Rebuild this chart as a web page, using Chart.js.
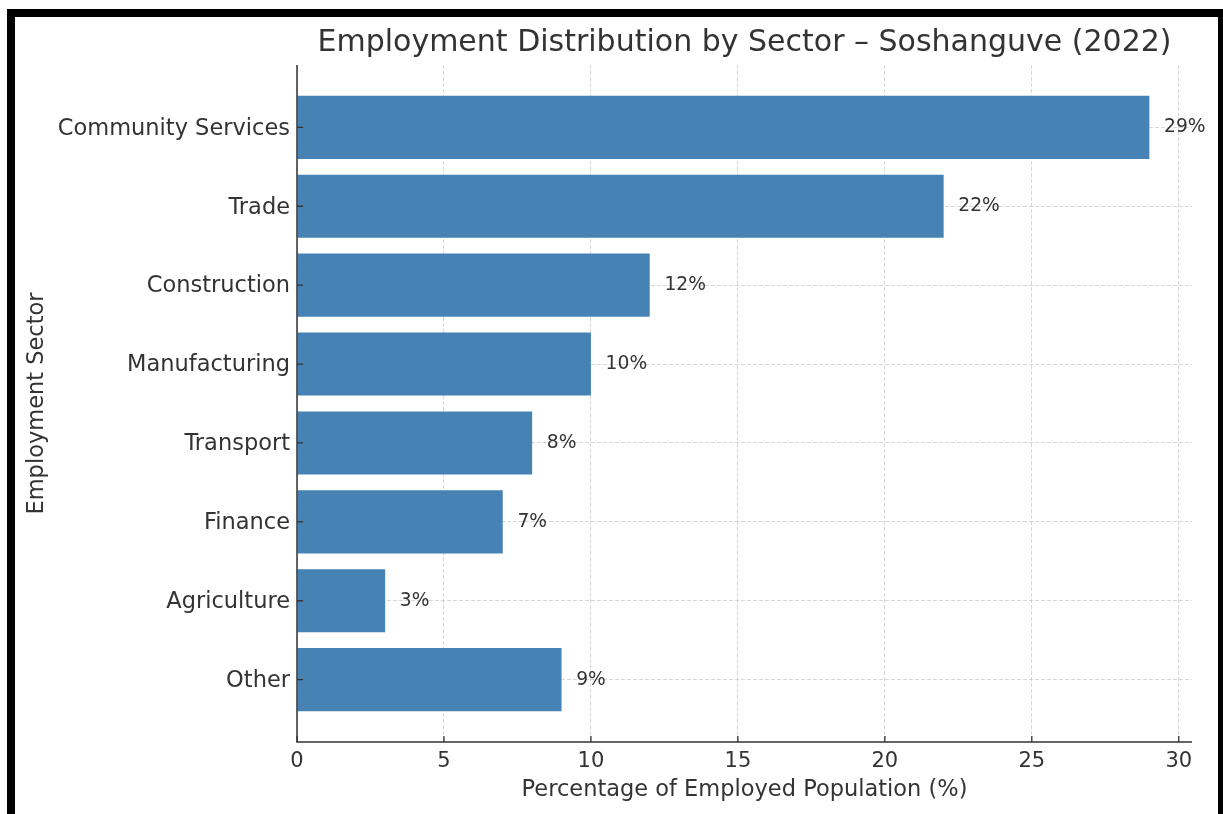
<!DOCTYPE html>
<html>
<head>
<meta charset="utf-8">
<title>Employment Distribution by Sector – Soshanguve (2022)</title>
<script src="https://cdn.jsdelivr.net/npm/chart.js@4/dist/chart.umd.min.js"></script>
<style>
  html, body { margin: 0; padding: 0; background: #ffffff; overflow: hidden; }
  #wrap { position: relative; width: 1223px; height: 814px; }
  #chart { position: absolute; left: 0; top: 0; }
  #frame {
    position: absolute; left: 7px; top: 9px; width: 1203px; height: 830px;
    border: 8px solid #000; pointer-events: none;
  }
</style>
</head>
<body>
<div id="wrap">
  <canvas id="chart" width="1223" height="814"></canvas>
  <div id="frame"></div>
</div>
<script>
// Sectors, top to bottom
const sectors = [
  'Community Services', 'Trade', 'Construction', 'Manufacturing',
  'Transport', 'Finance', 'Agriculture', 'Other'
];
// Share of employed population, %
const shares = [29, 22, 12, 10, 8, 7, 3, 9];
// Ticks along the percentage axis
const percentTicks = [0, 5, 10, 15, 20, 25, 30];

const FONT = "'DejaVu Sans', sans-serif";
const TEXT = '#333333';
const AXIS = '#333333';
const GRID = 'rgba(176,176,176,0.5)';
const BAR = '#4682b4';

const PLOT_LEFT = 297;
const AXIS_HEIGHT = 72;

// Axis lines, inward tick marks and value labels past each bar
const barExtras = {
  id: 'barExtras',
  afterDraw(chart) {
    const { ctx, scales: { x, y }, chartArea } = chart;
    ctx.save();
    ctx.strokeStyle = AXIS;
    ctx.lineCap = 'butt';
    ctx.setLineDash([]);

    // left and bottom spines
    ctx.lineWidth = 1.5;
    ctx.beginPath();
    ctx.moveTo(chartArea.left, chartArea.top);
    ctx.lineTo(chartArea.left, chartArea.bottom);
    ctx.lineTo(chartArea.right, chartArea.bottom);
    ctx.stroke();

    // tick marks pointing into the plot
    ctx.lineWidth = 1.3;
    ctx.beginPath();
    percentTicks.forEach(v => {
      const px = x.getPixelForValue(v);
      ctx.moveTo(px, chartArea.bottom);
      ctx.lineTo(px, chartArea.bottom - 6);
    });
    sectors.forEach((_, i) => {
      const py = y.getPixelForValue(i);
      ctx.moveTo(chartArea.left, py);
      ctx.lineTo(chartArea.left + 6, py);
    });
    ctx.stroke();

    ctx.fillStyle = TEXT;
    ctx.font = `18.7px ${FONT}`;
    ctx.textAlign = 'left';
    ctx.textBaseline = 'middle';
    shares.forEach((v, i) => {
      ctx.fillText(`${v}%`, x.getPixelForValue(v + 0.5), y.getPixelForValue(i));
    });
    ctx.restore();
  }
};

new Chart(document.getElementById('chart'), {
  type: 'bar',
  data: {
    datasets: [{
      data: shares.map((v, i) => ({ x: v, y: i })),
      backgroundColor: BAR,
      borderWidth: 0,
      categoryPercentage: 0.8,
      barPercentage: 1.0
    }]
  },
  options: {
    indexAxis: 'y',
    responsive: false,
    animation: false,
    devicePixelRatio: 1,
    layout: { padding: { left: 0, right: 31, top: 0, bottom: 0 } },
    plugins: {
      legend: { display: false },
      tooltip: { enabled: false },
      title: {
        display: true,
        fullSize: false,
        text: 'Employment Distribution by Sector – Soshanguve (2022)',
        color: TEXT,
        font: { family: FONT, size: 30, weight: 'normal', lineHeight: 1.2 },
        padding: { top: 25, bottom: 4 }
      }
    },
    scales: {
      x: {
        type: 'linear',
        position: 'bottom',
        min: 0,
        max: 30.45,
        z: 1,
        afterBuildTicks(scale) { scale.ticks = percentTicks.map(v => ({ value: v })); },
        afterFit(scale) { scale.height = AXIS_HEIGHT; },
        grid: { color: GRID, lineWidth: 1, drawTicks: false, offset: false },
        border: { display: false, dash: [4, 2] },
        ticks: {
          color: TEXT, padding: 7,
          font: { family: FONT, size: 21 },
          callback: v => String(v)
        },
        title: {
          display: true,
          text: 'Percentage of Employed Population (%)',
          color: TEXT,
          font: { family: FONT, size: 22.5, lineHeight: 1.2 },
          padding: { top: 0, bottom: 10 }
        }
      },
      y: {
        type: 'linear',
        position: 'left',
        reverse: true,
        offset: false,
        min: -0.79,
        max: 7.79,
        z: 1,
        afterBuildTicks(scale) { scale.ticks = sectors.map((_, i) => ({ value: i })); },
        afterFit(scale) { scale.width = PLOT_LEFT; },
        grid: { color: GRID, lineWidth: 1, drawTicks: false, offset: false },
        border: { display: false, dash: [4, 2] },
        ticks: {
          color: TEXT, padding: 7, labelOffset: 1.5,
          font: { family: FONT, size: 22.5 },
          callback: v => sectors[v] ?? ''
        },
        title: {
          display: true,
          text: 'Employment Sector',
          color: TEXT,
          font: { family: FONT, size: 22.5, lineHeight: 1.2 },
          padding: { top: 23.5, bottom: 0 }
        }
      }
    }
  },
  plugins: [barExtras]
});
</script>
</body>
</html>
